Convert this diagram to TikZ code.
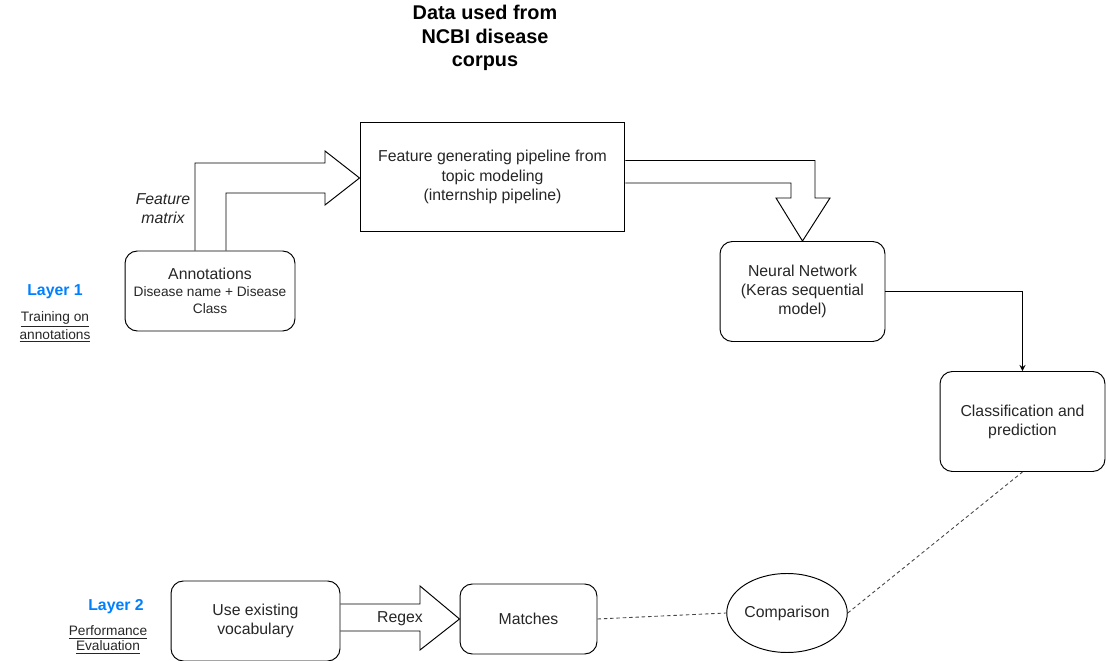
\documentclass[tikz,border=0pt]{standalone}
\usepackage{fontspec}
\setmainfont{Liberation Sans}
\usetikzlibrary{shapes,arrows,positioning,calc}
\definecolor{layerblue}{RGB}{0,127,255}
\definecolor{textgray}{RGB}{38,38,38}
\definecolor{dashgray}{RGB}{70,70,70}
\newcommand{\bodysize}{\fontsize{9}{10.9}\selectfont}
\newcommand{\notesize}{\fontsize{7.8}{8.7}\selectfont}
\newcommand{\titlesize}{\fontsize{11.3}{13.3}\selectfont}
\tikzset{
    % boxes
    roundbox/.style={
        rectangle, draw, line width=0.55pt, rounded corners=7pt,
        align=center, inner sep=0pt, text=textgray, font=\bodysize
    },
    plainbox/.style={
        rectangle, draw, line width=0.55pt,
        align=center, inner sep=0pt, text=textgray, font=\bodysize
    },
    cmpnode/.style={
        ellipse, draw, line width=0.55pt,
        inner sep=0pt, text=textgray, font=\bodysize
    },
    % texts
    titletext/.style={align=center, font=\titlesize\bfseries},
    layerlabel/.style={font=\bodysize\bfseries, text=layerblue},
    layernote/.style={align=center, font=\notesize, text=textgray},
    arrowlabel/.style={align=center, font=\bodysize, text=textgray},
    % connectors
    fatarrow/.style={draw, line width=0.55pt, line join=miter},
    linkarrow/.style={->, >=stealth, line width=0.55pt},
    dashlink/.style={dashed, dash pattern=on 2pt off 1.6pt, line width=0.5pt, color=dashgray}
}

\begin{document}
\begin{tikzpicture}[x=0.02cm, y=-0.02cm]
\useasboundingbox (0,0) rectangle (1106,661);

\node[titletext] (title) at (485,38) {Data used from\\NCBI disease\\corpus};

% layer 1
\node[layerlabel] (layer1) at (55,292) {Layer 1};
\node[layernote] (note1) at (55,327) {\underline{Training on}\\\underline{annotations}};

\node[roundbox, minimum width=3.4cm, minimum height=1.6cm] (annot) at (210,291)
    {Annotations\\[-1.5pt]{\notesize Disease name + Disease}\\[-1pt]{\notesize Class}};
\node[plainbox, minimum width=5.3cm, minimum height=2.18cm] (feature) at (492.5,177)
    {Feature generating pipeline from\\topic modeling\\(internship pipeline)};
\node[roundbox, minimum width=3.3cm, minimum height=2cm] (nn) at (802.5,291.5)
    {Neural Network\\(Keras sequential\\model)};
\node[roundbox, minimum width=3.3cm, minimum height=2cm] (cls) at (1022.5,421.5)
    {Classification and\\prediction};

% layer 2
\node[layerlabel] (layer2) at (116,607) {Layer 2};
\node[layernote] (note2) at (108,640) {\underline{Performance}\\\underline{Evaluation}};

\node[roundbox, minimum width=3.38cm, minimum height=1.6cm] (vocab) at (255.5,621)
    {Use existing\\vocabulary};
\node[roundbox, minimum width=2.74cm, minimum height=1.4cm] (matches) at (528.5,619) {Matches};
\node[cmpnode, minimum width=2.36cm, minimum height=1.58cm] (cmp) at (787,613) {Comparison};

% fat arrows
\draw[fatarrow] ($(annot.north)+(-15,0)$) |- (325,163) -- (325,151) -- ($(feature.west)+(0,1)$)
    -- (325,205) -- (325,193) -| ($(annot.north)+(16,0)$);
\node[arrowlabel, font=\bodysize\itshape] (fmlabel) at (163,209) {Feature\\matrix};

\draw[fatarrow] ($(feature.east)+(0,-16.5)$) -| (815,198) -- (830,198) -- (nn.north)
    -- (776,198) -- (791,198) |- ($(feature.east)+(0,6)$);

\draw[fatarrow] ($(vocab.east)+(0,-17)$) -- (420,604) -- (420,586) -- (matches.west)
    -- (420,650) -- (420,631) -- ($(vocab.east)+(0,10)$);
\node[arrowlabel] (regex) at (400,619) {Regex};

% plain connectors
\draw[linkarrow] (nn.east) -| (cls.north);
\draw[dashlink] (matches.east) -- (cmp.west);
\draw[dashlink] (cmp.east) -- (cls.south);

\end{tikzpicture}
\end{document}
